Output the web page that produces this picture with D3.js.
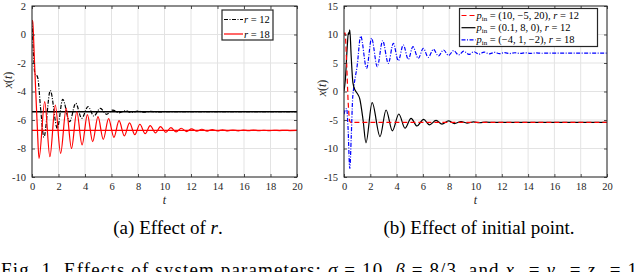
<!DOCTYPE html>
<html>
<head>
<meta charset="utf-8">
<script src="https://cdn.jsdelivr.net/npm/d3@7"></script>
<style>
  body { margin: 0; background: #fff; }
  svg text { font-family: "Liberation Serif", "Times New Roman", "DejaVu Serif", serif; }
</style>
</head>
<body>
<svg id="fig" width="640" height="272"></svg>
<script>
// tick values
const xTicks = [0, 2, 4, 6, 8, 10, 12, 14, 16, 18, 20];
const yTicksA = [2, 0, -2, -4, -6, -8, -10];
const yTicksB = [15, 10, 5, 0, -5, -10, -15];

// (a) effect of r : [t, x(t)]
const r12 = [[0, 1], [0.1, -1.2], [0.22, -2.75], [0.35, -2.85], [0.45, -3.1], [0.65, -5.2], [0.9, -7.2],
  [1.38, -3.94], [1.91, -6.59], [2.32, -4.55], [2.84, -6.12], [3.3, -4.83], [3.75, -5.88], [4.23, -5.06],
  [4.67, -5.72], [5.16, -5.18], [5.62, -5.6], [6.1, -5.3], [6.57, -5.5], [7.04, -5.35], [7.5, -5.47],
  [7.97, -5.38], [8.44, -5.45], [8.9, -5.4], [9.4, -5.43], [10.2, -5.42], [20, -5.42]];
const r18 = [[0, 1], [0.05, 0.9], [0.2, -2.2], [0.4, -6.5], [0.53, -8.69],
  [0.96, -4.71], [1.35, -8.57], [1.76, -4.95], [2.16, -8.34], [2.58, -5.18], [2.98, -8.0], [3.38, -5.42],
  [3.78, -7.75], [4.18, -5.62], [4.58, -7.52], [4.98, -5.77], [5.38, -7.36], [5.78, -5.9], [6.18, -7.22],
  [6.57, -6.05], [6.97, -7.12], [7.36, -6.2], [7.76, -7.03], [8.14, -6.3], [8.54, -6.96], [8.92, -6.4],
  [9.32, -6.91], [9.7, -6.47], [10.1, -6.87], [10.48, -6.53], [10.88, -6.84], [11.26, -6.58], [11.66, -6.81],
  [12.04, -6.62], [12.44, -6.79], [12.82, -6.65], [13.22, -6.78], [13.6, -6.67], [14.0, -6.77], [14.38, -6.69],
  [14.78, -6.76], [15.16, -6.7], [15.56, -6.76], [15.94, -6.71], [16.34, -6.75], [16.72, -6.71], [17.12, -6.75],
  [17.5, -6.72], [17.9, -6.75], [18.28, -6.72], [18.68, -6.74], [19.06, -6.72], [19.46, -6.74], [20, -6.73]];
const eq12 = -5.42;
const eq18 = -6.73;

// (b) effect of initial point : [t, x(t)]
const pA = [[0, 10], [0.08, 10.3], [0.2, 5], [0.32, -2], [0.45, -5.3], [0.6, -5.5], [0.8, -5.4], [20, -5.42]];
const pB = [[0, 0.1], [0.1, 2], [0.25, 8], [0.33, 10.3], [0.37, 10.0], [0.44, 10.8], [0.55, 6], [0.68, 1.5],
  [0.85, 0.2], [1.0, -0.3], [1.2, -1.3], [1.45, -5], [1.67, -9.0], [2.14, -1.96], [2.74, -7.9], [3.2, -3.25],
  [3.68, -6.9], [4.17, -3.95], [4.64, -6.45], [5.1, -4.7], [5.55, -6.05], [6.05, -4.9], [6.5, -5.85],
  [7.0, -5.05], [7.45, -5.72], [7.95, -5.17], [8.4, -5.62], [8.9, -5.27], [9.35, -5.54], [9.85, -5.33],
  [10.3, -5.48], [10.8, -5.38], [11.5, -5.42], [20, -5.42]];
const pC = [[0, -4], [0.1, -3.2], [0.2, -3.0], [0.3, -6], [0.44, -13.5], [0.55, -8], [0.65, -1.5], [0.75, 0.8],
  [1.0, 4.5], [1.27, 9.7], [1.72, 4.07], [2.1, 9.33], [2.53, 4.36], [2.94, 8.9], [3.37, 4.94], [3.75, 8.45],
  [4.13, 5.4], [4.51, 8.16], [4.89, 5.64], [5.24, 7.86], [5.65, 5.8], [6.03, 7.57], [6.41, 5.99], [6.8, 7.4],
  [7.18, 6.23], [7.57, 7.28], [7.95, 6.33], [8.34, 7.17], [8.72, 6.42], [9.1, 7.07], [9.5, 6.5], [9.88, 6.98],
  [10.27, 6.56], [10.66, 6.92], [11.05, 6.6], [11.44, 6.87], [11.83, 6.63], [12.22, 6.83], [12.6, 6.66],
  [13.0, 6.8], [13.4, 6.68], [13.8, 6.78], [14.2, 6.7], [14.6, 6.76], [15, 6.71], [15.5, 6.75], [16, 6.72],
  [16.5, 6.74], [17, 6.73], [20, 6.73]];

const svg = d3.select("#fig");
const serif = "'Liberation Serif', 'Times New Roman', 'DejaVu Serif', serif";

function panel(o) {
  const x = d3.scaleLinear().domain([0, 20]).range([o.left, o.right]);
  const y = d3.scaleLinear().domain(o.yDomain).range([o.bottom, o.top]);
  const g = svg.append("g");

  // grid
  g.selectAll(".gx").data(xTicks).join("line")
    .attr("x1", d => x(d)).attr("x2", d => x(d))
    .attr("y1", o.top).attr("y2", o.bottom)
    .attr("stroke", "#e3e3e3").attr("stroke-width", 1);
  g.selectAll(".gy").data(o.yTicks).join("line")
    .attr("x1", o.left).attr("x2", o.right)
    .attr("y1", d => y(d)).attr("y2", d => y(d))
    .attr("stroke", "#e3e3e3").attr("stroke-width", 1);

  // curves
  const clipId = "clip" + o.id;
  svg.append("clipPath").attr("id", clipId).append("rect")
    .attr("x", o.left).attr("y", o.top)
    .attr("width", o.right - o.left).attr("height", o.bottom - o.top);
  const line = d3.line().x(d => x(d[0])).y(d => y(d[1])).curve(d3.curveMonotoneX);
  const cg = g.append("g").attr("clip-path", `url(#${clipId})`);
  o.series.forEach(s => {
    cg.append("path").datum(s.data)
      .attr("d", line)
      .attr("fill", "none")
      .attr("stroke", s.color)
      .attr("stroke-width", s.width || 1.2)
      .attr("stroke-dasharray", s.dash || null);
  });

  // axes with inner ticks on all sides
  const tl = 3;
  g.append("g").attr("transform", `translate(0,${o.bottom})`)
    .call(d3.axisBottom(x).tickValues(xTicks).tickSizeInner(-tl).tickSizeOuter(0).tickPadding(6));
  g.append("g").attr("transform", `translate(0,${o.top})`)
    .call(d3.axisTop(x).tickValues(xTicks).tickSizeInner(-tl).tickSizeOuter(0).tickFormat(""));
  g.append("g").attr("transform", `translate(${o.left},0)`)
    .call(d3.axisLeft(y).tickValues(o.yTicks).tickSizeInner(-tl).tickSizeOuter(0).tickPadding(6)
      .tickFormat(d => String(d)));
  g.append("g").attr("transform", `translate(${o.right},0)`)
    .call(d3.axisRight(y).tickValues(o.yTicks).tickSizeInner(-tl).tickSizeOuter(0).tickFormat(""));
  g.selectAll(".domain").remove();
  g.selectAll(".tick line").attr("stroke", "#262626").attr("stroke-width", 0.8);
  g.selectAll(".tick text").attr("fill", "#262626").attr("font-size", 10.5);
  g.append("rect")
    .attr("x", o.left).attr("y", o.top)
    .attr("width", o.right - o.left).attr("height", o.bottom - o.top)
    .attr("fill", "none").attr("stroke", "#262626").attr("stroke-width", 1);

  // axis labels
  const yl = g.append("text")
    .attr("transform", `translate(${o.ylabelX},${o.ylabelY}) rotate(-90)`)
    .attr("text-anchor", "middle").attr("font-size", 12).attr("fill", "#262626");
  yl.append("tspan").attr("font-style", "italic").text("x");
  yl.append("tspan").text("(");
  yl.append("tspan").attr("font-style", "italic").text("t");
  yl.append("tspan").text(")");
  g.append("text").attr("x", (o.left + o.right) / 2).attr("y", 204)
    .attr("text-anchor", "middle").attr("font-size", 12).attr("font-style", "italic")
    .attr("fill", "#262626").text("t");

  // legend
  const L = o.legend;
  g.append("rect").attr("x", L.x).attr("y", L.y).attr("width", L.w).attr("height", L.h)
    .attr("fill", "#fff").attr("stroke", "#262626").attr("stroke-width", 1.2);
  L.rows.forEach((r, i) => {
    const yy = L.y + L.first + i * L.step;
    g.append("line").attr("x1", L.x + 2).attr("x2", L.x + 2 + L.lineLen)
      .attr("y1", yy).attr("y2", yy)
      .attr("stroke", r.color).attr("stroke-width", 1.2).attr("stroke-dasharray", r.dash || null);
    const t = g.append("text").attr("x", L.x + 3 + L.lineLen).attr("y", yy + 3.5)
      .attr("font-size", 10.5).attr("fill", "#000");
    r.parts.forEach(p => {
      const sp = t.append("tspan").text(p.s);
      if (p.i) sp.attr("font-style", "italic");
      if (p.sub) sp.attr("font-size", 7).attr("dy", 2);
      if (p.up) sp.attr("dy", -2);
    });
  });

  // caption
  const cap = svg.append("text").attr("x", o.capX).attr("y", 234)
    .attr("text-anchor", "middle").attr("font-size", 19).attr("fill", "#000");
  o.caption.forEach(p => {
    const sp = cap.append("tspan").text(p.s);
    if (p.i) sp.attr("font-style", "italic");
  });
}

const pin = (rest) => [{ s: "p", i: true }, { s: "in", sub: true }, { s: " = " + rest[0], up: true }, { s: "r", i: true }, { s: " = " + rest[1] }];

panel({
  id: "a", left: 32, right: 297, top: 6, bottom: 177,
  yDomain: [-10, 2], yTicks: yTicksA, ylabelX: 12, ylabelY: 80,
  series: [
    { data: [[0, eq12], [20, eq12]], color: "#000", width: 1.3 },
    { data: [[0, eq18], [20, eq18]], color: "#ff0000", width: 1.3 },
    { data: r12, color: "#000", dash: "4,1.5,1,1.5" },
    { data: r18, color: "#ff0000" }
  ],
  legend: {
    x: 222, y: 10, w: 51, h: 30, first: 9.5, step: 14.5, lineLen: 19,
    rows: [
      { color: "#000", dash: "4,1.5,1,1.5", parts: [{ s: "r", i: true }, { s: " = 12" }] },
      { color: "#ff0000", parts: [{ s: "r", i: true }, { s: " = 18" }] }
    ]
  },
  capX: 168, caption: [{ s: "(a)  Effect of " }, { s: "r", i: true }, { s: "." }]
});

panel({
  id: "b", left: 344, right: 607, top: 6, bottom: 177,
  yDomain: [-15, 15], yTicks: yTicksB, ylabelX: 326, ylabelY: 88,
  series: [
    { data: pC, color: "#0000ff", dash: "4,1.5,1,1.5" },
    { data: pB, color: "#000" },
    { data: pA, color: "#ff0000", dash: "5,3" }
  ],
  legend: {
    x: 459.5, y: 8.5, w: 138, h: 38, first: 7, step: 12.2, lineLen: 14,
    rows: [
      { color: "#ff0000", dash: "5,3", parts: pin(["(10, \u22125, 20), ", "12"]) },
      { color: "#000", parts: pin(["(0.1, 8, 0), ", "12"]) },
      { color: "#0000ff", dash: "4,1.5,1,1.5", parts: pin(["(\u22124, 1, \u22122), ", "18"]) }
    ]
  },
  capX: 479, caption: [{ s: "(b)  Effect of initial point." }]
});

// figure caption, partly below the frame as in the reference
const fc = svg.append("text").attr("x", 1).attr("y", 276).attr("font-size", 19).attr("fill", "#000")
  .attr("textLength", 636).attr("lengthAdjust", "spacing");
fc.append("tspan").text("Fig. 1.   Effects of system parameters:  ");
fc.append("tspan").attr("font-style", "italic").text("\u03c3");
fc.append("tspan").text(" = 10, ");
fc.append("tspan").attr("font-style", "italic").text("\u03b2");
fc.append("tspan").text(" = 8/3, and ");
fc.append("tspan").attr("font-style", "italic").text("x");
fc.append("tspan").text("\u2080 = ");
fc.append("tspan").attr("font-style", "italic").text("y");
fc.append("tspan").text("\u2080 = ");
fc.append("tspan").attr("font-style", "italic").text("z");
fc.append("tspan").text("\u2080 = 1");

svg.selectAll("text").attr("font-family", serif);
</script>
</body>
</html>
